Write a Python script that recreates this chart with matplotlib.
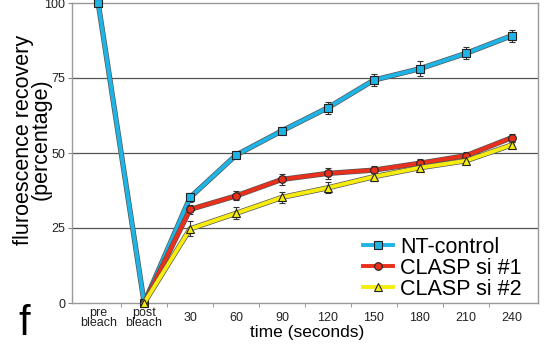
import matplotlib.pyplot as plt
import numpy as np

# categories along the x axis
x_labels = ["pre\nbleach", "post\nbleach", "30", "60", "90", "120", "150", "180", "210", "240"]

# fluorescence recovery (percentage)
nt_control = [100, 0, 35.2, 49.3, 57.4, 65.1, 74.3, 78.1, 83.2, 89.1]
nt_err = [0, 0, 1.5, 1.0, 1.2, 2.0, 2.0, 2.5, 2.0, 2.0]

clasp1 = [np.nan, 0, 31.2, 35.7, 41.2, 43.2, 44.3, 46.6, 49.1, 55.1]
clasp1_err = [0, 0, 1.5, 1.5, 1.8, 1.8, 1.5, 1.3, 1.3, 1.3]

clasp2 = [np.nan, 0, 24.7, 29.9, 35.2, 38.4, 42.1, 45.1, 47.4, 52.7]
clasp2_err = [0, 0, 2.5, 2.0, 1.8, 1.8, 1.3, 1.0, 1.0, 1.0]

y_ticks = [0, 25, 50, 75, 100]

plt.rcParams["font.family"] = ["Liberation Sans", "DejaVu Sans"]

fig = plt.figure(figsize=(5.44, 3.47), dpi=100)
ax = fig.add_axes([72 / 544, 1 - 303 / 347, (538 - 72) / 544, 300 / 347])

x = np.arange(len(x_labels))
series = [
    (nt_control, nt_err, "#1fb4e6", "s", "NT-control"),
    (clasp1, clasp1_err, "#e8301c", "o", "CLASP si #1"),
    (clasp2, clasp2_err, "#f7ec10", "^", "CLASP si #2"),
]
for z, (vals, err, color, marker, label) in enumerate(series):
    vals = np.array(vals, dtype=float)
    ax.errorbar(x, vals, yerr=err, fmt="none", ecolor="#333333", elinewidth=0.8,
                capsize=2, capthick=0.8, zorder=3 + z, clip_on=False)
    ax.plot(x, vals, color="#555555", lw=3.8, zorder=3 + z, clip_on=False)
    ax.plot(x, vals, color=color, lw=2.8, marker=marker, markersize=5.5,
            markerfacecolor=color, markeredgecolor="#222222", markeredgewidth=0.8,
            label=label, zorder=3.5 + z, clip_on=False)

ax.set_xlim(-0.57, 9.57)
ax.set_ylim(0, 100)
ax.set_xticks(x)
ax.set_xticklabels(x_labels, fontsize=9, linespacing=0.8)
for lbl in ax.get_xticklabels():
    lbl.set_va("center")
ax.set_xticks(x[:-1] + 0.5, minor=True)
ax.tick_params(axis="x", which="major", length=0, pad=11, colors="#222222")
ax.tick_params(axis="x", which="minor", length=3, color="#888888")
ax.set_yticks(y_ticks)
ax.tick_params(axis="y", length=3, color="#888888", labelsize=9, labelcolor="#222222", pad=2)

for v in y_ticks[1:-1]:
    ax.axhline(v, color="#555555", lw=0.9, zorder=1)

for side in ["left", "right", "top", "bottom"]:
    ax.spines[side].set_color("#999999")
    ax.spines[side].set_linewidth(1.0)

ax.set_ylabel("fluroescence recovery\n(percentage)", fontsize=15.5, linespacing=0.82)
ax.yaxis.set_label_coords(-0.043, 0.545)
ax.set_xlabel("time (seconds)", fontsize=12.5)
ax.xaxis.set_label_coords(0.505, -0.072)
ax.xaxis.label.set_va("top")

leg = ax.legend(loc="lower right", bbox_to_anchor=(0.995, -0.035), frameon=False, fontsize=15.5,
                handlelength=1.4, handletextpad=0.33, labelspacing=0.0, borderaxespad=0.25)

fig.text(24 / 544, 1 - 324 / 347, "f", fontsize=30, ha="center", va="center")

fig.savefig("out.png", dpi=100)
